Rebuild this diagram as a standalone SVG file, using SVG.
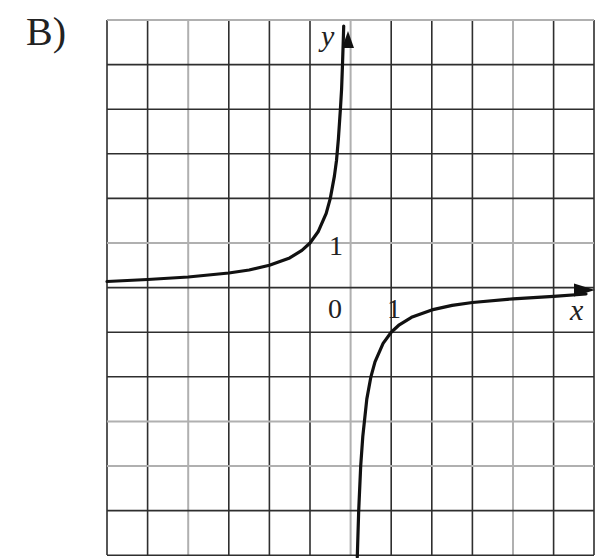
<svg xmlns="http://www.w3.org/2000/svg" width="597" height="558" viewBox="0 0 597 558">
<style>
.g{stroke:#2e2e2e;stroke-width:1.6;fill:none}
.gl{stroke:#b0b0b0;stroke-width:2;fill:none}
.c{stroke:#111;stroke-width:3.2;fill:none;stroke-linecap:round;stroke-linejoin:round}
.t{font-family:"Liberation Serif","Times New Roman",serif;fill:#222}
.i{font-style:italic}
</style>
<rect width="597" height="558" fill="#fff"/>
<g id="grid">
<path class="g" d="M107,20V555M147.6,20V555M228.8,20V555M269.4,20V555M310,20V555M391.2,20V555M431.8,20V555M472.4,20V555M553.6,20V555M594,20V555"/>
<path class="gl" d="M188.2,20V555M350.6,20V555M513,20V555"/>
<path class="g" d="M107,64.6H594M107,109.2H594M107,153.8H594M107,198.4H594M107,287.6H594M107,332.2H594M107,376.8H594M107,510.6H594M107,555.2H594"/>
<path class="gl" d="M107,20H594M107,243H594M107,421.4H594M107,466H594"/>
</g>
<g id="axes">
<polygon points="348,31 342,48 354,48" fill="#111"/>
<polygon points="595,290 574,283.5 574,296.5" fill="#111"/>
</g>
<g id="curve">
<path class="c" d="M107,281.5 L147.6,279.5 L188.2,277 L228.8,273 L249.1,270 L269.4,265.3 L289.7,257.9 L301.9,250.4 L310,243 L318.1,231.8 L326.2,213.3 L330.3,198.4 L334.4,176.1 L336.5,160.5 L338.4,138.9 L340.4,109.2 L341.6,89 L342.5,64.6 L343.3,39.8 L343.7,26"/>
<path class="c" d="M357.3,557 L357.5,550 L358.7,510.6 L360.7,466 L362.8,436.3 L366.8,399.1 L370.9,376.8 L375,361.9 L383.1,343.4 L391.2,332.2 L399.3,324.8 L411.5,317.3 L431.8,309.9 L452.1,305.4 L472.4,302.5 L513,298.8 L553.6,296.3 L586,294"/>
</g>
<g id="labels">
<text class="t" x="26" y="45" font-size="40">B)</text>
<text class="t i" x="321" y="46" font-size="30">y</text>
<text class="t" x="329" y="255" font-size="28">1</text>
<text class="t" x="328" y="318" font-size="28">0</text>
<text class="t" x="387" y="318" font-size="28">1</text>
<text class="t i" x="570" y="320" font-size="30">x</text>
</g>
</svg>
